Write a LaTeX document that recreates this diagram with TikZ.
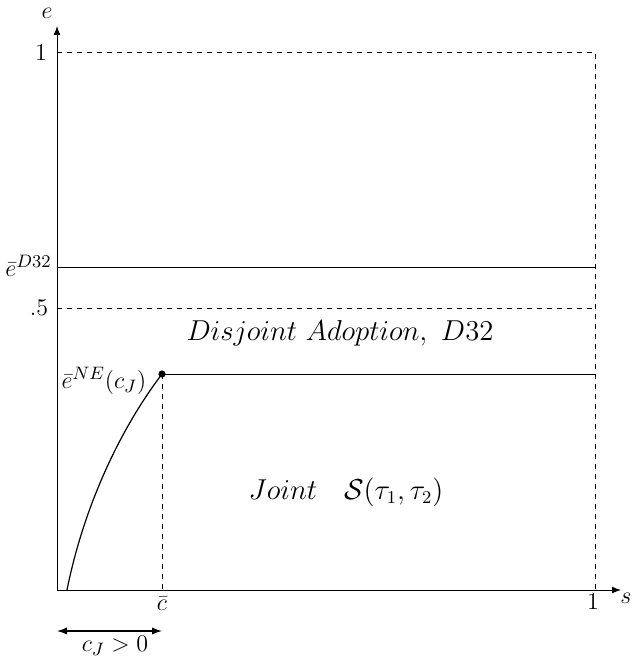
\documentclass[tikz,border=0pt]{standalone}
\usetikzlibrary{arrows.meta}
\begin{document}
\begin{tikzpicture}[x=0.5pt,y=-0.5pt,
  axis/.style={line width=0.45pt,-{Latex[length=4.5pt,width=3.4pt]}},
  dbl/.style={line width=0.6pt,{Latex[length=5pt,width=3.6pt]}-{Latex[length=5pt,width=3.6pt]}},
  dsh/.style={line width=0.45pt,dash pattern=on 2.6pt off 2.4pt},
  sol/.style={line width=0.45pt},
  tick/.style={inner sep=0pt,font=\large},
  lab/.style={inner sep=0pt,font=\fontsize{13}{15}\selectfont},
  region/.style={inner sep=0pt,font=\fontsize{13.5}{16}\selectfont},
  dot/.style={circle,fill=black,inner sep=0pt,minimum size=3.6pt}
  ]
\useasboundingbox (0,0) rectangle (631,663);
% key points
\coordinate (O) at (57,590);
\coordinate (Xend) at (621,590);
\coordinate (Yend) at (57,26);
\coordinate (Y1) at (57,52);
\coordinate (C11) at (595,52);
\coordinate (X1) at (595,590);
\coordinate (YD) at (57,267);
\coordinate (RD) at (595,267);
\coordinate (Yh) at (57,308);
\coordinate (Rh) at (595,308);
\coordinate (RN) at (595,374);
\coordinate (Xc) at (162,590);
\coordinate (S0) at (67,590);
\coordinate (AL) at (57,631);
\coordinate (AR) at (162,631);
\node[dot] (P) at (162,374) {};
% axes
\draw[axis] (O) -- (Xend);
\draw[axis] (O) -- (Yend);
% dashed lines
\draw[dsh] (Y1) -- (C11) -- (X1);
\draw[dsh] (Yh) -- (Rh);
\draw[dsh] (P.center) -- (Xc);
% solid lines
\draw[sol] (YD) -- (RD);
\draw[sol] (P.center) -- (RN);
\draw[line width=0.6pt] (S0) .. controls (83,510) and (118,432) .. (P.center);
% double arrow
\draw[dbl] (AL) -- (AR);
% labels
\node[tick] (le) at (47,13) {$e$};
\node[tick] (ls) at (626,598) {$s$};
\node[tick] (l1y) at (41,53) {$1$};
\node[tick] (lh) at (39,308) {$.5$};
\node[lab,anchor=east] (lD) at (52,266) {$\bar{e}^{D32}$};
\node[lab] (lNE) at (104,381) {$\bar{e}^{NE}(c_J)$};
\node[tick] (lc) at (162,604) {$\bar{c}$};
\node[tick] (l1x) at (593,602) {$1$};
\node[lab] (lcj) at (115,646) {$c_J>0$};
\node[region] (rD) at (340,333) {$Disjoint\ Adoption,\ D32$};
\node[region] (rJ) at (346,492) {$Joint\quad\mathcal{S}(\tau_1,\tau_2)$};
\end{tikzpicture}
\end{document}
